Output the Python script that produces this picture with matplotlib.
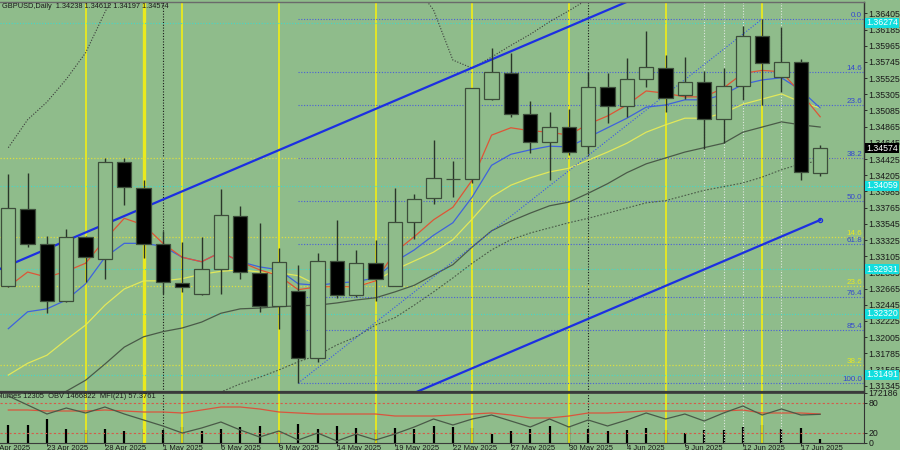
import numpy as np
import matplotlib
matplotlib.use("Agg")
import matplotlib.pyplot as plt
import matplotlib.transforms as mtrans

plt.rcParams['font.family'] = ['Liberation Sans', 'DejaVu Sans']

# ---------------- data ----------------
opens = [1.32700, 1.33746, 1.33271, 1.32496, 1.33366, 1.33067, 1.34385, 1.34032, 1.33271, 1.32741,
         1.32591, 1.32931, 1.33651, 1.32877, 1.32428, 1.32632, 1.31722, 1.33040, 1.32578, 1.33013,
         1.32700, 1.33570, 1.33896, 1.34154, 1.34154, 1.35241, 1.35594, 1.35037, 1.34657, 1.34860,
         1.34602, 1.35404, 1.35146, 1.35513, 1.35662, 1.35295, 1.35472, 1.34969, 1.35417, 1.36097,
         1.35540, 1.35744, 1.34238]
highs = [1.34222, 1.34235, 1.33380, 1.33475, 1.33380, 1.34439, 1.34439, 1.34140, 1.33447, 1.33298,
         1.33366, 1.34018, 1.33787, 1.33556, 1.33216, 1.32985, 1.33149, 1.33597, 1.33189, 1.33325,
         1.34032, 1.33950, 1.34684, 1.34398, 1.35390, 1.35934, 1.35866, 1.35214, 1.35064, 1.35105,
         1.35608, 1.35594, 1.35798, 1.36165, 1.35839, 1.35811, 1.35621, 1.35662, 1.36233, 1.36328,
         1.36219, 1.35784, 1.34612]
lows = [1.32680, 1.33230, 1.32333, 1.32483, 1.32755, 1.32795, 1.33801, 1.33081, 1.32591, 1.32619,
        1.32578, 1.32591, 1.32795, 1.32347, 1.32116, 1.31382, 1.31668, 1.32537, 1.32551, 1.32496,
        1.32700, 1.33339, 1.33814, 1.33909, 1.34100, 1.35227, 1.34996, 1.34507, 1.34140, 1.34480,
        1.34494, 1.34915, 1.34996, 1.35404, 1.35064, 1.35241, 1.34561, 1.34643, 1.35227, 1.35159,
        1.35336, 1.34140, 1.34197]
closes = [1.33760, 1.33271, 1.32496, 1.33366, 1.33094, 1.34385, 1.34045, 1.33271, 1.32755, 1.32687,
          1.32931, 1.33665, 1.32890, 1.32428, 1.33026, 1.31722, 1.33040, 1.32578, 1.33013, 1.32795,
          1.33570, 1.33882, 1.34168, 1.34160, 1.35390, 1.35608, 1.35037, 1.34657, 1.34860, 1.34521,
          1.35404, 1.35146, 1.35513, 1.35676, 1.35254, 1.35472, 1.34969, 1.35417, 1.36097, 1.35730,
          1.35744, 1.34249, 1.34574]

ma_red = [1.3269, 1.3289, 1.3282, 1.3290, 1.3301, 1.3333, 1.3362, 1.3353, 1.3328, 1.3309,
          1.3303, 1.3316, 1.3303, 1.3292, 1.3284, 1.3265, 1.3269, 1.3269, 1.3269, 1.3277,
          1.3316, 1.3337, 1.3360, 1.3377, 1.3414, 1.3475, 1.3485, 1.3481, 1.3479, 1.3475,
          1.3490, 1.3501, 1.3516, 1.3535, 1.3532, 1.3527, 1.3527, 1.3539, 1.3559, 1.3563,
          1.3561, 1.3532, 1.3500]
ma_blue = [1.3212, 1.3235, 1.3239, 1.3251, 1.3273, 1.3309, 1.3328, 1.3328, 1.3324, 1.3309,
           1.3303, 1.3316, 1.3303, 1.3296, 1.3292, 1.3273, 1.3271, 1.3274, 1.3276, 1.3281,
           1.3303, 1.3319, 1.3339, 1.3356, 1.3391, 1.3434, 1.3449, 1.3455, 1.3460, 1.3459,
           1.3472, 1.3485, 1.3498, 1.3513, 1.3516, 1.3523, 1.3523, 1.3530, 1.3544, 1.3550,
           1.3553, 1.3536, 1.3512]
ma_yellow = [1.3149, 1.3165, 1.3176, 1.3197, 1.3217, 1.3244, 1.3266, 1.3277, 1.3277, 1.3280,
             1.3286, 1.3290, 1.3292, 1.3289, 1.3288, 1.3284, 1.3271, 1.3267, 1.3270, 1.3277,
             1.3292, 1.3304, 1.3316, 1.3333, 1.3361, 1.3391, 1.3407, 1.3417, 1.3425, 1.3430,
             1.3441, 1.3452, 1.3464, 1.3479, 1.3489, 1.3498, 1.3498, 1.3505, 1.3517, 1.3524,
             1.3531, 1.3520, 1.3512]
ma_gray = [1.3074, 1.3095, 1.3112, 1.3127, 1.3142, 1.3164, 1.3187, 1.3201, 1.3208, 1.3213,
           1.3221, 1.3233, 1.3239, 1.3240, 1.3242, 1.3243, 1.3244, 1.3247, 1.3251, 1.3254,
           1.3262, 1.3271, 1.3285, 1.3299, 1.3323, 1.3345, 1.3358, 1.3369, 1.3379, 1.3384,
           1.3396, 1.3409, 1.3424, 1.3436, 1.3444, 1.3452, 1.3458, 1.3464, 1.3479, 1.3486,
           1.3493, 1.3489, 1.3486]
ma_gray_dotted = [np.nan] * 10 + [
           1.3115, 1.3126, 1.3137, 1.3146, 1.3156, 1.3167, 1.3176, 1.3190, 1.3201, 1.3217,
           1.3227, 1.3244, 1.3262, 1.3281, 1.3301, 1.3319, 1.3333, 1.3342, 1.3349, 1.3356,
           1.3362, 1.3369, 1.3376, 1.3383, 1.3386, 1.3393, 1.3400, 1.3405, 1.3410, 1.3418,
           1.3428, 1.3436, 1.3440]
band_upper = [1.3458, 1.3496, 1.3520, 1.3551, 1.3587, 1.3642, 1.3695, 1.3715, 1.3725, 1.3730,
              1.3735, 1.3740, 1.3740, 1.3740, 1.3740, 1.3740, 1.3735, 1.3730, 1.3720, 1.3710,
              1.3695, 1.3680, 1.3645, 1.3577, 1.3566, 1.3581, 1.3597, 1.3612, 1.3629, 1.3644,
              1.3660, 1.3680, 1.3695, 1.3705, 1.3710, 1.3715, 1.3720, 1.3720, 1.3720, 1.3720,
              1.3720, 1.3720, 1.3720]

volumes = [62000, 62000, 82600, 48200, 44800, 48200, 41300, 48200, 44800, 55100,
           41300, 48200, 55100, 58500, 41300, 65400, 48200, 58500, 51700, 44800,
           51700, 48200, 58500, 55100, 51700, 31000, 41300, 48200, 58500, 55100,
           48200, 41300, 44800, 51700, 44800, 34400, 44800, 44800, 55100, 62000,
           48200, 51700, 12305]
mfi = [94, 76, 58, 70, 60, 72, 58, 46, 34, 20,
       30, 42, 26, 12, 24, 6, 20, 4, 18, 6,
       18, 32, 48, 36, 48, 56, 44, 32, 48, 32,
       46, 34, 46, 60, 48, 58, 44, 60, 74, 56,
       68, 56, 57.3761]
mfi_signal = [66, 66, 64, 64, 64, 66, 64, 62, 62, 60,
              66, 72, 72, 68, 62, 60, 58, 58, 58, 58,
              54, 54, 54, 56, 58, 60, 56, 50, 50, 54,
              60, 60, 62, 64, 64, 64, 64, 64, 66, 60,
              60, 60, 58]

date_idx = [-1, 2, 5, 8, 11, 14, 17, 20, 23, 26, 29, 32, 35, 38, 41]
date_labels = ['18 Apr 2025', '23 Apr 2025', '28 Apr 2025', '1 May 2025', '6 May 2025',
               '9 May 2025', '14 May 2025', '19 May 2025', '22 May 2025', '27 May 2025',
               '30 May 2025', '4 Jun 2025', '9 Jun 2025', '12 Jun 2025', '17 Jun 2025']

price_tick_labels = ['1.36405', '1.36185', '1.35965', '1.35745', '1.35525', '1.35305', '1.35085',
                     '1.34865', '1.34645', '1.34425', '1.34205', '1.33985', '1.33765', '1.33545',
                     '1.33325', '1.33105', '1.32885', '1.32665', '1.32445', '1.32225', '1.32005',
                     '1.31785', '1.31565', '1.31345']

fib_blue_levels = [0.0, 14.6, 23.6, 38.2, 50.0, 61.8, 76.4, 85.4, 100.0]
fib_blue_high, fib_blue_low = 1.36328, 1.31382
fib_blue_start = 15
fib_yellow_levels = [0.0, 14.6, 23.6, 38.2]
fib_yellow_0, fib_yellow_100 = 1.34439, 1.27090
cyan_levels = [1.36274, 1.34059, 1.32931, 1.32320, 1.31491]

channel_upper_x, channel_upper_y = [-1, 33], [1.32868, 1.36673]
channel_lower_x, channel_lower_y = [20, 42], [1.31135, 1.33597]
fib_trend_x, fib_trend_y = [15, 39], [1.31382, 1.36328]

yellow_vlines = [4, 9, 14, 19, 24, 29, 34, 39]
yellow_thick_vlines = [7]
black_dotted_vlines = [8, 30]
white_dotted_vlines = [36, 37, 38, 40]

title = 'GBPUSD,Daily  1.34238 1.34612 1.34197 1.34574'
ind_label = 'Volumes 12305  OBV 1466822  MFI(21) 57.3761'
last_price = '1.34574'

# ---------------- styling ----------------
BG = '#8fbc8b'
W, H = 900, 450
AX_FS = 6.3

def rect(x0, y0, x1, y1):
    return [x0 / W, 1 - y1 / H, (x1 - x0) / W, (y1 - y0) / H]

fig = plt.figure(figsize=(9, 4.5), dpi=100)
fig.patch.set_facecolor(BG)
ax = fig.add_axes(rect(0, 2, 864, 392))
axi = fig.add_axes(rect(0, 393, 864, 443))
ax.set_facecolor(BG)

n = len(opens)
x = np.arange(n)
XLIM = (-0.4294, 44.268)
ax.set_xlim(*XLIM)
axi.set_xlim(*XLIM)
ax.set_ylim(1.31260, 1.36559)

# vertical separators (both panels)
for a in (ax, axi):
    for v in yellow_vlines:
        a.axvline(v, color='#eaea1e', lw=1.3, zorder=1)
    for v in yellow_thick_vlines:
        a.axvline(v, color='#eaea1e', lw=2.4, zorder=1)
    for v in black_dotted_vlines:
        a.axvline(v, color='#1a1a1a', lw=0.8, ls=(0, (1, 1.5)), zorder=1)
    for v in white_dotted_vlines:
        a.axvline(v, color='#dfe8df', lw=0.8, ls=(0, (1, 1.5)), zorder=1)

# horizontal levels
for lv in cyan_levels:
    ax.axhline(lv, color='#45d8c8', lw=0.8, ls=(0, (1, 1.5)), zorder=1)
ytr = mtrans.blended_transform_factory(ax.transAxes, ax.transData)
ylo, yhi = ax.get_ylim()
for lv in fib_yellow_levels:
    p = fib_yellow_0 - (fib_yellow_0 - fib_yellow_100) * lv / 100.0
    ax.axhline(p, color='#dede40', lw=0.9, ls=(0, (1, 1.5)), zorder=1)
    if ylo < p < yhi and lv > 0:
        ax.text(862 / 864, p, f'{lv:.1f}', transform=ytr, ha='right', va='bottom',
                fontsize=5.8, color='#e8e820', zorder=6)
for lv in fib_blue_levels:
    p = fib_blue_high - (fib_blue_high - fib_blue_low) * lv / 100.0
    ax.hlines(p, fib_blue_start, XLIM[1], color='#4a5fd8', lw=0.8, ls=(0, (1, 1.5)), zorder=1)
    ax.text(862 / 864, p, f'{lv:.1f}', transform=ytr, ha='right', va='bottom',
            fontsize=5.8, color='#3347d0', zorder=6)

# moving averages and bands
ax.plot(x, band_upper, color='#3a3a3a', lw=0.8, ls=(0, (1, 1.5)), zorder=2)
ax.plot(x, ma_gray_dotted, color='#4a5a48', lw=0.8, ls=(0, (1.5, 1.5)), zorder=2)
ax.plot(x, ma_gray, color='#4a5a48', lw=0.9, zorder=2)
ax.plot(x, ma_yellow, color='#e2e85a', lw=0.9, zorder=2)
ax.plot(x, ma_blue, color='#3f63dc', lw=0.9, zorder=2)
ax.plot(x, ma_red, color='#de5536', lw=0.9, zorder=2)

# trend lines
ax.plot(fib_trend_x, fib_trend_y, color='#3a58e6', lw=0.8, ls=(0, (1, 1.5)), zorder=2)
ax.plot(channel_upper_x, channel_upper_y, color='#1c2fe2', lw=1.6, zorder=2.5)
ax.plot(channel_lower_x, channel_lower_y, color='#1c2fe2', lw=1.6, zorder=2.5)
ax.plot(channel_lower_x[-1:], channel_lower_y[-1:], marker='o', ms=3, mfc='none',
        mec='#1c2fe2', mew=0.9, zorder=2.6)

# candles
o = np.array(opens); c = np.array(closes)
ax.vlines(x, lows, highs, color='#2a362a', lw=1.0, zorder=3)
bull = c >= o
bw = 0.74
ax.bar(x[bull], (c - o)[bull], bottom=o[bull], width=bw, color=BG,
       edgecolor='#3d4d3b', linewidth=0.9, zorder=4)
ax.bar(x[~bull], (o - c)[~bull], bottom=c[~bull], width=bw, color='black',
       edgecolor='#3d4d3b', linewidth=0.9, zorder=4)

# axes cosmetics (main)
ax.spines['left'].set_visible(False)
ax.spines['right'].set_color('#333333'); ax.spines['right'].set_linewidth(1.0)
ax.spines['top'].set_color('#6a6a6a'); ax.spines['top'].set_linewidth(1.0)
ax.spines['bottom'].set_color('#3a3a3a'); ax.spines['bottom'].set_linewidth(1.6)
ax.yaxis.tick_right()
ax.set_yticks([float(t) for t in price_tick_labels])
ax.set_yticklabels(price_tick_labels)
ax.tick_params(axis='y', direction='out', length=2, width=0.6, pad=1,
               labelsize=AX_FS, colors='#1a1a1a')
ax.set_xticks([])

# ---------------- indicator panel ----------------
axv = axi.twinx()
axv.set_ylim(0, 172186)
axv.vlines(x, 0, volumes, color='black', lw=1.6)
axv.set_axis_off()
axv.set_zorder(axi.get_zorder() - 1)
axi.patch.set_alpha(0)

axi.set_ylim(0, 100)
axi.axhline(80, color='#d65a4a', lw=0.8, ls=(0, (2, 2)), zorder=1)
axi.axhline(20, color='#d65a4a', lw=0.8, ls=(0, (2, 2)), zorder=1)
axi.plot(x, mfi_signal, color='#d9553e', lw=0.9, zorder=3)
axi.plot(x, mfi, color='#4a5a48', lw=0.9, zorder=3)

axi.spines['left'].set_visible(False)
axi.spines['right'].set_color('#333333')
axi.spines['top'].set_color('#3a3a3a'); axi.spines['top'].set_linewidth(1.2)
axi.spines['bottom'].set_color('#3a3a3a')
axi.yaxis.tick_right()
axi.set_yticks([0, 20, 80, 100])
axi.set_yticklabels(['0', '20', '80', '172186'])
axi.tick_params(axis='y', direction='out', length=2, width=0.6, pad=1,
                labelsize=AX_FS, colors='#1a1a1a')
vis = [d for d in date_idx if XLIM[0] <= d <= XLIM[1]]
axi.set_xticks(vis)
axi.set_xticklabels([''] * len(vis))
axi.tick_params(axis='x', direction='out', length=2, width=0.6, colors='#1a1a1a')
xtr = mtrans.blended_transform_factory(axi.transData, axi.transAxes)
for d, lab in zip(date_idx, date_labels):
    axi.text(d, -0.03, lab, transform=xtr, ha='left', va='top', fontsize=5.5,
             color='#1a1a1a', clip_on=False)

# ---------------- labels ----------------
fig.text(2 / W, 1 - 7 / H, title, fontsize=5.3, color='#1a1a1a', va='center', ha='left')
fig.text(-8 / W, 1 - 396.5 / H, ind_label, fontsize=5.4, color='#1a1a1a',
         va='center', ha='left')

ptr = mtrans.blended_transform_factory(fig.transFigure, ax.transData)
for lv in cyan_levels:
    fig.text(866 / W, lv, f'{lv:.5f}', transform=ptr, fontsize=AX_FS, color='white',
             va='center', ha='left', zorder=10,
             bbox=dict(boxstyle='square,pad=0.1', fc='#12dede', ec='none'))
fig.text(866 / W, float(last_price), last_price, transform=ptr, fontsize=AX_FS, color='white',
         va='center', ha='left', zorder=10,
         bbox=dict(boxstyle='square,pad=0.1', fc='black', ec='none'))

fig.savefig('out.png', dpi=100, facecolor=BG)
